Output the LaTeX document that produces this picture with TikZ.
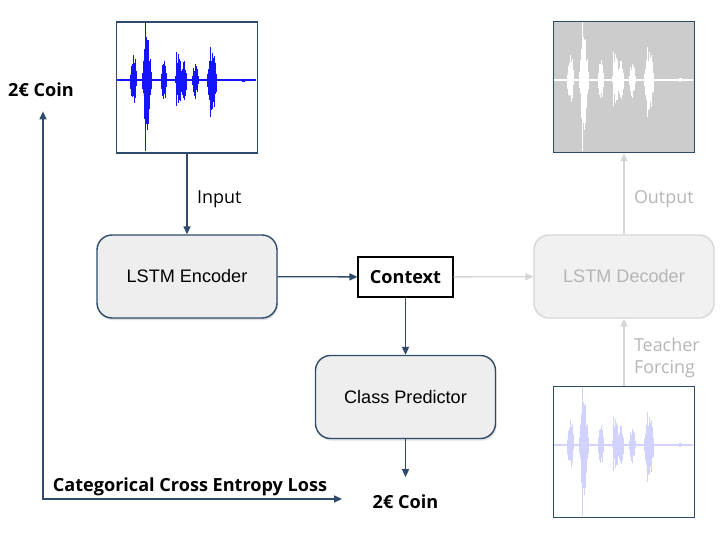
\documentclass[tikz,border=0pt]{standalone}
\usepackage{fontspec}
\setmainfont{Liberation Sans}
\newfontfamily\labelfont{Open Sans}
\usetikzlibrary{arrows.meta, shadows}

\definecolor{edgeblue}{HTML}{2E4B6B}
\definecolor{boxgray}{HTML}{EEEEEE}
\definecolor{fadeline}{HTML}{D6D6D6}
\definecolor{fadetext}{HTML}{B5B5B5}
\definecolor{fadefill}{HTML}{F1F1F1}
\definecolor{wavegray}{HTML}{CCCCCC}
\definecolor{waveblue}{HTML}{1414FF}
\definecolor{paleblue}{HTML}{D2D2FF}

% waveform drawn inside a wave box, #1 = box node, #2 = colour
\newcommand\soundwave[2]{%
  \begin{scope}[shift={(#1.north west)}, fill=#2, draw=#2]
    \pgfmathsetseed{7}
    \draw[line width=1.1pt] (1,59) -- (140,59);
    \foreach \sx/\su/\sd/\sw in {17.5/28/27/3.5, 31/47/53/4.5, 48/24/21/3, 63/28/26/3.5, 68/22/20/3, 79.5/18/19/3.5, 96/32/35/5, 127/2/2/3}{
      \fill (\sx-\sw,59) -- (\sx-0.5*\sw,59-0.4*\su) -- (\sx,59-0.55*\su)
        -- (\sx+0.5*\sw,59-0.4*\su) -- (\sx+\sw,59) -- (\sx+0.5*\sw,59+0.4*\sd)
        -- (\sx,59+0.55*\sd) -- (\sx-0.5*\sw,59+0.4*\sd) -- cycle;
      \foreach \k in {-10,...,10}{
        \pgfmathsetmacro\hu{\su*(1-(\k/10)^2)*(0.45+0.55*rnd)}
        \pgfmathsetmacro\hd{\sd*(1-(\k/10)^2)*(0.45+0.55*rnd)}
        \draw[line width=0.35pt] (\sx+\k*\sw/10,59-\hu) -- (\sx+\k*\sw/10,59+\hd);
      }
    }
    \draw[line width=0.6pt] (29.7,1) -- (29.7,130);
    \draw[line width=0.5pt] (61,31) -- (61,85) (95,26) -- (95,96);
  \end{scope}}

\begin{document}
\begin{tikzpicture}[x=0.02cm, y=-0.02cm,
    wavebox/.style = {draw=edgeblue, line width=0.8pt, fill=white, inner sep=0pt,
                      minimum width=2.82cm, minimum height=2.62cm},
    block/.style = {draw=edgeblue, line width=0.8pt, fill=boxgray, rounded corners=0.3cm,
                    minimum width=3.6cm, minimum height=1.66cm,
                    drop shadow={shadow xshift=0.6pt, shadow yshift=-1.2pt, opacity=0.25},
                    font=\fontsize{10.3}{12}\selectfont},
    fadeblock/.style = {draw=fadeline, line width=0.8pt, fill=fadefill, text=fadetext,
                        rounded corners=0.3cm, minimum width=3.6cm, minimum height=1.66cm,
                        font=\fontsize{10.3}{12}\selectfont},
    context/.style = {draw=black, line width=0.7pt, fill=white, minimum width=1.9cm,
                      minimum height=0.8cm, font=\labelfont\bfseries\fontsize{10.3}{12}\selectfont},
    coin/.style = {inner sep=8pt, font=\labelfont\bfseries\fontsize{10.3}{12}\selectfont},
    note/.style = {right=2pt, yshift=-3pt, font=\labelfont\fontsize{10.2}{12.5}\selectfont},
    fadenote/.style = {note, text=fadetext, align=left},
    flow/.style = {draw=edgeblue, line width=0.75pt, -{Triangle[length=4.5pt, width=4pt]}},
    fadeflow/.style = {draw=fadeline, line width=0.75pt, -{Triangle[length=4.5pt, width=4pt]}}]

    \useasboundingbox (0,0) rectangle (724,536);

    % waveforms
    \node[wavebox] (inwave) at (187,87.5) {};
    \node[wavebox, fill=wavegray] (outwave) at (624,87) {};
    \node[wavebox] (tfwave) at (624,452) {};
    \soundwave{inwave}{waveblue}
    \soundwave{outwave}{white}
    \soundwave{tfwave}{paleblue}

    % model blocks
    \node[block] (encoder) at (187,276.5) {LSTM Encoder};
    \node[block] (predictor) at (405.5,397) {Class Predictor};
    \node[fadeblock] (decoder) at (624,276.5) {LSTM Decoder};
    \node[context] (context) at (405.5,277) {Context};

    % labels
    \node[coin] (topcoin) at (41,90) {2€ Coin};
    \node[coin] (botcoin) at (405.5,502) {2€ Coin};
    \node[coin] (loss) at (190,487) {Categorical Cross Entropy Loss};
    \coordinate (losscorner) at (43,499);
    \coordinate (lossend) at (342,499);

    % connectors
    \draw[flow] (inwave) -- node[note] {Input} (encoder);
    \draw[flow] (encoder) -- (context);
    \draw[flow] (context) -- (predictor);
    \draw[flow, shorten >=2pt] (predictor) -- (botcoin);
    \draw[fadeflow] (context) -- (decoder);
    \draw[fadeflow] (decoder) -- node[fadenote] {Output} (outwave);
    \draw[fadeflow] (tfwave) -- node[fadenote] {Teacher\\Forcing} (decoder);
    \draw[flow, {Triangle[length=4.5pt, width=4pt]}-{Triangle[length=4.5pt, width=4pt]}]
        (lossend) -- (losscorner) -- (losscorner |- topcoin.south);
\end{tikzpicture}
\end{document}
